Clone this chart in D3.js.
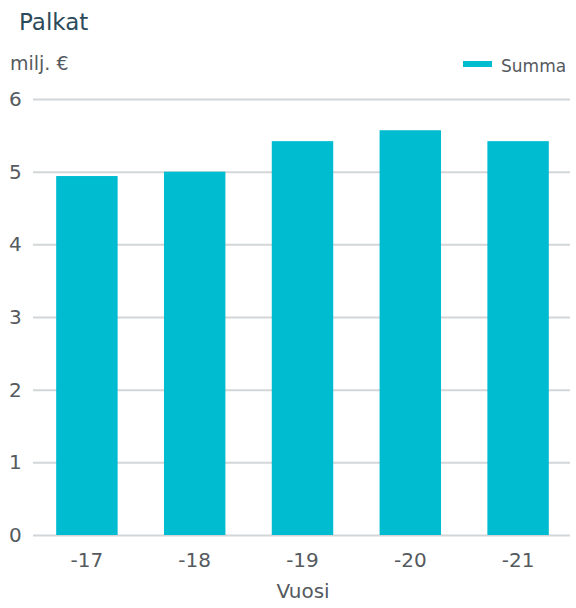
<html>
<head>
    <title>Palkat</title>
    <script src="https://d3js.org/d3.v7.min.js"></script>
    <style>
        body { margin: 0; background: #fff; font-family: "DejaVu Sans", sans-serif; }
        .grid line { stroke: #d3d6d8; stroke-width: 2; }
        .grid path { display: none; }
        .ylab text, .xlab text { fill: #555a5e; font-size: 20px; }
    </style>
</head>
<body>
    <svg id="chart"></svg>
    <script>
        var years = ["-17", "-18", "-19", "-20", "-21"];
        var summa = [4.94, 5.0, 5.42, 5.57, 5.42];
        var yTicks = [0, 1, 2, 3, 4, 5, 6];

        var width = 576, height = 608;
        var svg = d3.select("#chart").attr("width", width).attr("height", height);

        var x = d3.scaleBand().domain(years).range([33, 572]).paddingInner(0.43).paddingOuter(0.215);
        var y = d3.scaleLinear().domain([0, 6]).range([535, 99]);

        // gridlines
        svg.append("g")
            .attr("class", "grid")
            .attr("transform", "translate(33,0)")
            .call(d3.axisRight(y).tickValues(yTicks).tickSize(537).tickFormat(""));

        // y labels
        svg.append("g")
            .attr("class", "ylab")
            .selectAll("text")
            .data(yTicks)
            .enter()
            .append("text")
            .attr("x", 9)
            .attr("y", function (d) { return y(d); })
            .attr("dy", "0.35em")
            .text(function (d) { return d; });

        svg.append("g")
            .selectAll("rect")
            .data(summa)
            .enter()
            .append("rect")
            .attr("x", function (d, i) { return x(years[i]); })
            .attr("width", x.bandwidth())
            .attr("y", function (d) { return y(d); })
            .attr("height", function (d) { return y(0) - y(d); })
            .attr("fill", "#00bcd0");

        // x labels
        svg.append("g")
            .attr("class", "xlab")
            .selectAll("text")
            .data(years)
            .enter()
            .append("text")
            .attr("x", function (d) { return x(d) + x.bandwidth() / 2; })
            .attr("y", 567)
            .attr("text-anchor", "middle")
            .text(function (d) { return d; });

        svg.append("text")
            .attr("x", 303).attr("y", 598)
            .attr("text-anchor", "middle")
            .attr("fill", "#555a5e").attr("font-size", 20)
            .text("Vuosi");

        svg.append("text")
            .attr("x", 19).attr("y", 30)
            .attr("fill", "#2c4a5a").attr("font-size", 23)
            .text("Palkat");

        svg.append("text")
            .attr("x", 10).attr("y", 70)
            .attr("fill", "#555a5e").attr("font-size", 19)
            .text("milj. €");

        // legend
        svg.append("rect")
            .attr("x", 463).attr("y", 61).attr("width", 29).attr("height", 6)
            .attr("fill", "#00bcd0");
        svg.append("text")
            .attr("x", 501).attr("y", 72)
            .attr("fill", "#555a5e").attr("font-size", 17)
            .text("Summa");
    </script>
</body>
</html>
